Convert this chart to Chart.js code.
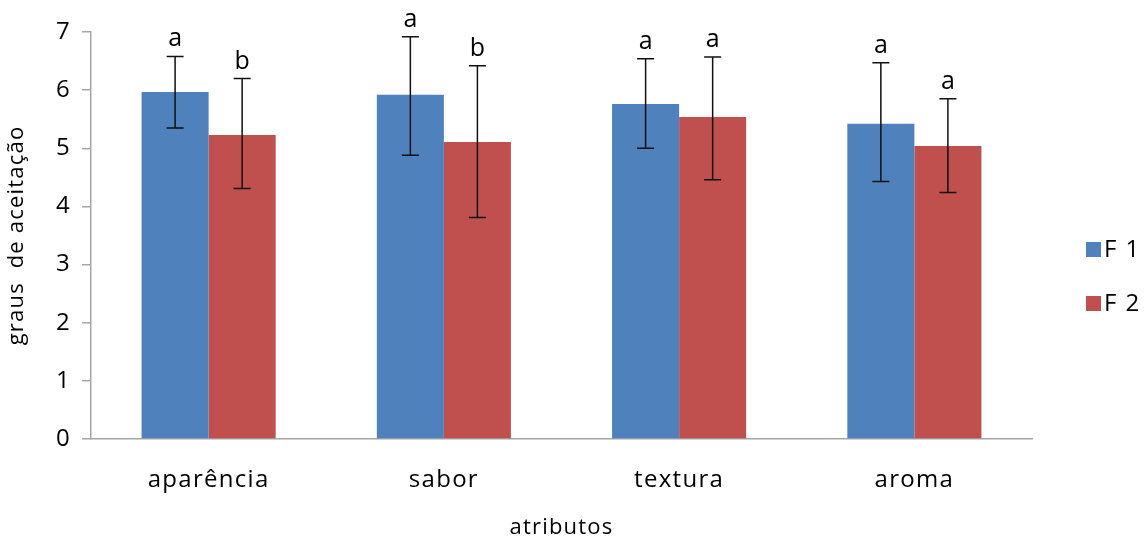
<!DOCTYPE html>
<html>
<head>
<meta charset="utf-8">
<script src="https://cdn.jsdelivr.net/npm/chart.js@4"></script>
<style>
html,body{margin:0;padding:0;background:#fff;}
#wrap{width:1144px;height:545px;}
</style>
</head>
<body>
<div id="wrap"><canvas id="c" width="1144" height="545"></canvas></div>
<script>
const categories = ['aparência', 'sabor', 'textura', 'aroma'];
const seriesNames = ['F 1', 'F 2'];
const f1Values = [5.97, 5.92, 5.76, 5.42];
const f2Values = [5.23, 5.11, 5.54, 5.04];
const f1Upper = [6.58, 6.92, 6.54, 6.47];
const f1Lower = [5.35, 4.88, 5.00, 4.43];
const f2Upper = [6.20, 6.42, 6.57, 5.85];
const f2Lower = [4.31, 3.81, 4.46, 4.24];
const f1Letters = ['a', 'a', 'a', 'a'];
const f2Letters = ['b', 'b', 'a', 'a'];
const yTicks = [0, 1, 2, 3, 4, 5, 6, 7];

const FONT = '"Open Sans", Lato, sans-serif';
const errUpper = [f1Upper, f2Upper];
const errLower = [f1Lower, f2Lower];
const letters = [f1Letters, f2Letters];

const spacingPlugin = {
  id: 'spacing',
  beforeDraw(chart) { chart.ctx.letterSpacing = '1.2px'; }
};

const errorBarPlugin = {
  id: 'errorBars',
  afterDatasetsDraw(chart) {
    const ctx = chart.ctx;
    const y = chart.scales.y;
    ctx.save();
    ctx.letterSpacing = '0px';
    chart.data.datasets.forEach((ds, di) => {
      const meta = chart.getDatasetMeta(di);
      meta.data.forEach((bar, i) => {
        const x = bar.x;
        const yu = y.getPixelForValue(errUpper[di][i]);
        const yl = y.getPixelForValue(errLower[di][i]);
        ctx.strokeStyle = '#111';
        ctx.lineWidth = 1.5;
        ctx.beginPath();
        ctx.moveTo(x, yu); ctx.lineTo(x, yl);
        ctx.moveTo(x - 8.5, yu); ctx.lineTo(x + 8.5, yu);
        ctx.moveTo(x - 8.5, yl); ctx.lineTo(x + 8.5, yl);
        ctx.stroke();
        ctx.fillStyle = '#000';
        ctx.font = '25px ' + FONT;
        ctx.textAlign = 'center';
        ctx.textBaseline = 'alphabetic';
        ctx.fillText(letters[di][i], x, yu - 10);
      });
    });
    ctx.restore();
  }
};

const legendPlugin = {
  id: 'customLegend',
  afterDraw(chart) {
    const ctx = chart.ctx;
    ctx.save();
    ctx.letterSpacing = '1.5px';
    const ys = [250, 304];
    chart.data.datasets.forEach((ds, di) => {
      ctx.fillStyle = ds.backgroundColor;
      ctx.fillRect(1086, ys[di] - 8, 15, 15);
      ctx.fillStyle = '#000';
      ctx.font = '24px ' + FONT;
      ctx.textAlign = 'left';
      ctx.textBaseline = 'middle';
      ctx.fillText(ds.label, 1104, ys[di]);
    });
    ctx.restore();
  }
};

function spacedLabels(s) {
  if (!s._spaced) {
    const orig = s.drawLabels.bind(s);
    s.drawLabels = function (area) {
      s.ctx.save();
      s.ctx.letterSpacing = '1.3px';
      orig(area);
      s.ctx.restore();
    };
    s._spaced = true;
  }
}

new Chart(document.getElementById('c'), {
  type: 'bar',
  data: {
    labels: categories,
    datasets: [
      { label: seriesNames[0], data: f1Values, backgroundColor: '#4F81BD' },
      { label: seriesNames[1], data: f2Values, backgroundColor: '#C0504D' }
    ]
  },
  options: {
    responsive: false,
    animation: false,
    layout: { padding: { left: 0, right: 112, top: 32, bottom: 0 } },
    datasets: { bar: { categoryPercentage: 0.57, barPercentage: 1.0 } },
    plugins: { legend: { display: false }, tooltip: { enabled: false } },
    scales: {
      x: {
        grid: { display: false, drawTicks: false },
        border: { display: true, color: '#A6A6A6', width: 1.5 },
        ticks: { color: '#000', font: { family: FONT, size: 24 }, padding: 27 },
        title: { display: true, text: 'atributos', color: '#000', font: { family: FONT, size: 22 }, padding: { top: 12 } },
        afterFit(s) { s.height = 106; },
        afterUpdate(s) { spacedLabels(s); }
      },
      y: {
        min: 0, max: 7,
        afterBuildTicks(s) { s.ticks = yTicks.map(v => ({ value: v })); },
        grid: { drawOnChartArea: false, drawTicks: true, tickLength: 9, color: '#A6A6A6', lineWidth: 1.5 },
        border: { display: true, color: '#A6A6A6', width: 1.5 },
        ticks: { color: '#000', font: { family: FONT, size: 24 }, padding: 11 },
        title: { display: true, text: 'graus  de aceitação', color: '#000', font: { family: FONT, size: 22 }, padding: { bottom: 2 } },
        afterFit(s) { s.width = 91; }
      }
    }
  },
  plugins: [spacingPlugin, errorBarPlugin, legendPlugin]
});
</script>
</body>
</html>
